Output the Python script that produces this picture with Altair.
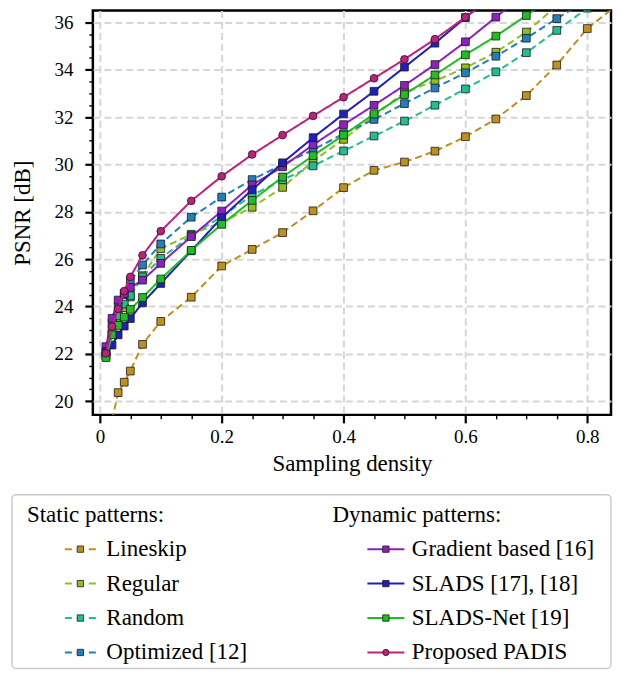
import altair as alt
import pandas as pd

# ---------------- data ----------------
series = ["Lineskip", "Regular", "Random", "Optimized [12]",
          "Gradient based [16]", "SLADS [17], [18]", "SLADS-Net [19]", "Proposed PADIS"]
groups = ["Static patterns:"] * 4 + ["Dynamic patterns:"] * 4
colors = ["#C0901F", "#8FBF1F", "#1FBF8F", "#1F7FBF",
          "#8F1FBF", "#1F1FBF", "#1FBF1F", "#BF1F7F"]
shapes = ["square"] * 7 + ["circle"]
dashes = [[7, 4]] * 4 + [[1, 0]] * 4

x_main = [0.01, 0.02, 0.03, 0.04, 0.05, 0.07, 0.1, 0.15, 0.2, 0.25, 0.3,
          0.35, 0.4, 0.45, 0.5, 0.55, 0.6, 0.65, 0.7, 0.75, 0.8]

lineskip_x = [0.02, 0.03, 0.04, 0.05, 0.07, 0.1, 0.15, 0.2, 0.25, 0.3, 0.35,
              0.4, 0.45, 0.5, 0.55, 0.6, 0.65, 0.7, 0.75, 0.8, 0.85]
lineskip_y = [19.2, 20.36, 20.8, 21.27, 22.4, 23.37, 24.39, 25.71, 26.41, 27.12, 28.04,
              29.02, 29.75, 30.1, 30.56, 31.17, 31.92, 32.91, 34.2, 35.74, 36.75]
regular_x = x_main[:20]
regular_y = [21.9, 22.85, 23.45, 23.95, 24.4, 25.3, 26.44, 27.05, 27.55, 28.19, 29.03,
             30.14, 31.06, 32.05, 33.05, 33.53, 34.08, 34.74, 35.59, 36.7]
random_x = x_main
random_y = [21.95, 23.0, 23.6, 24.1, 24.45, 25.25, 26.03, 27.0, 27.8, 28.7, 29.35,
            29.94, 30.57, 31.2, 31.83, 32.5, 33.19, 33.91, 34.72, 35.66, 36.6]
optimized_x = x_main
optimized_y = [22.05, 23.3, 24.0, 24.5, 25.07, 25.75, 26.64, 27.77, 28.62, 29.36, 30.0,
               30.62, 31.3, 31.9, 32.57, 33.23, 33.87, 34.57, 35.33, 36.16, 36.95]
gradient_x = x_main[:19]
gradient_y = [22.3, 23.5, 24.27, 24.55, 24.8, 25.11, 25.82, 26.95, 28.03, 29.14, 29.9,
              30.83, 31.68, 32.5, 33.34, 34.22, 35.18, 36.22, 37.25]
slads_x = x_main[:18]
slads_y = [22.1, 22.37, 22.8, 23.17, 23.49, 24.15, 24.97, 26.35, 27.75, 28.93, 30.07,
           31.13, 32.13, 33.09, 34.11, 35.12, 36.2, 37.25]
sladsnet_x = x_main[:20]
sladsnet_y = [21.84, 22.8, 23.2, 23.55, 23.88, 24.38, 25.16, 26.37, 27.47, 28.48, 29.47,
              30.37, 31.24, 32.13, 32.95, 33.78, 34.63, 35.42, 36.29, 37.2]
padis_x = x_main[:18]
padis_y = [22.02, 23.15, 23.9, 24.65, 25.25, 26.16, 27.18, 28.46, 29.5, 30.42, 31.24,
           32.05, 32.84, 33.64, 34.44, 35.29, 36.22, 37.15]

xs_all = [lineskip_x, regular_x, random_x, optimized_x, gradient_x, slads_x, sladsnet_x, padis_x]
ys_all = [lineskip_y, regular_y, random_y, optimized_y, gradient_y, slads_y, sladsnet_y, padis_y]

x_ticks = [round(0.05 * i, 2) for i in range(17)]
y_ticks = [20 + 0.5 * i for i in range(33)]

# ---------------- tables ----------------
rows = []
for s, xv, yv in zip(series, xs_all, ys_all):
    for a, b in zip(xv, yv):
        rows.append({"series": s, "x": a, "y": b})
df = pd.DataFrame(rows)

leg_rows = []
for i, (s, g) in enumerate(zip(series, groups)):
    leg_rows.append({"series": s, "label": s, "col": 0 if i < 4 else 1, "row": i % 4 + 1,
                     "kind": "static" if i < 4 else "dynamic"})
for j, g in enumerate(["Static patterns:", "Dynamic patterns:"]):
    leg_rows.append({"series": None, "label": g, "col": j, "row": 0, "kind": "header"})
leg_df = pd.DataFrame(leg_rows)

FONT = "Liberation Serif"
color_scale = alt.Scale(domain=series, range=colors)
shape_scale = alt.Scale(domain=series, range=shapes)
dash_scale = alt.Scale(domain=series, range=dashes)

xs = alt.Scale(domain=[-0.0115, 0.839], nice=False, zero=False)
ys = alt.Scale(domain=[19.42, 36.5], nice=False, zero=False)

xmaj = "abs(datum.value*5 - round(datum.value*5)) < 0.000001"
ymaj = "abs(datum.value/2 - round(datum.value/2)) < 0.000001"


def axis_kw(test):
    return dict(
        domain=False,
        tickColor="black",
        tickSize={"condition": {"test": test, "value": 8}, "value": 4},
        tickWidth={"condition": {"test": test, "value": 2.2}, "value": 1.4},
        gridOpacity={"condition": {"test": test, "value": 1}, "value": 0},
        gridColor="#d6d6d6", gridDash=[7, 4], gridWidth=2,
        labelFont=FONT, labelFontSize=19, labelColor="black",
        labelOverlap=False, labelFlush=False,
        titleFont=FONT, titleFontSize=23, titleFontWeight="normal", titleColor="black",
    )


x_axis = alt.Axis(values=x_ticks, title="Sampling density",
                  labelExpr=f"({xmaj}) ? format(datum.value, '~g') : ''",
                  labelPadding=5, titlePadding=6, **axis_kw(xmaj))
y_axis = alt.Axis(values=y_ticks, title="PSNR [dB]",
                  labelExpr=f"({ymaj}) ? format(datum.value, 'd') : ''",
                  labelPadding=12, titleX=-58, **axis_kw(ymaj))

enc_x = alt.X("x:Q", scale=xs, axis=x_axis)
enc_y = alt.Y("y:Q", scale=ys, axis=y_axis)

layers = []
for k, s in enumerate(series):
    base = alt.Chart(df).transform_filter(alt.datum.series == s)
    line = base.mark_line(clip=True, strokeWidth=2).encode(
        x=enc_x, y=enc_y,
        stroke=alt.Stroke("series:N", scale=color_scale, legend=None),
        strokeDash=alt.StrokeDash("series:N", scale=dash_scale, legend=None),
    )
    pts = base.mark_point(clip=True, filled=True, opacity=1, size=60,
                          stroke="#1a1a1a", strokeWidth=0.8).encode(
        x=enc_x, y=enc_y,
        fill=alt.Fill("series:N", scale=color_scale, legend=None),
        shape=alt.Shape("series:N", scale=shape_scale, legend=None),
    )
    layers += [line, pts]

PLOT_W = 519
main = alt.layer(*layers).properties(
    width=PLOT_W, height=405,
    view=alt.ViewBackground(stroke="black", strokeWidth=2.5),
)

# ---------------- custom legend panel ----------------
# The legend panel shares the plot's left origin; its frame reaches out under the y axis.
LEG_LEFT = -81
LEG_H = 174
lx = alt.X("col:Q", scale=alt.Scale(domain=[0, 1], range=[0, 306]), axis=None)
ly = alt.Y("row:Q", scale=alt.Scale(domain=[0, 4], range=[20, 158]), axis=None)
lbase = alt.Chart(leg_df)

frame = alt.Chart(pd.DataFrame({"k": [0]})).mark_rect(
    fill="white", stroke="#cccccc", strokeWidth=1.5, cornerRadius=4
).encode(x=alt.value(LEG_LEFT), x2=alt.value(PLOT_W), y=alt.value(0), y2=alt.value(LEG_H))

headers = lbase.transform_filter(alt.datum.kind == "header").mark_text(
    align="left", baseline="middle", font=FONT, fontSize=23, color="black",
    xOffset=LEG_LEFT + 15
).encode(x=lx, y=ly, text="label:N")

SYM_OFF = LEG_LEFT + 68.5
static_lines = lbase.transform_filter(alt.datum.kind == "static").mark_point(
    shape="M-1,0L1,0", size=31 * 31, filled=False, opacity=1, strokeWidth=2,
    strokeDash=[7, 5], xOffset=SYM_OFF
).encode(x=lx, y=ly, stroke=alt.Stroke("series:N", scale=color_scale, legend=None))

dyn_lines = lbase.transform_filter(alt.datum.kind == "dynamic").mark_point(
    shape="M-1,0L1,0", size=37 * 37, filled=False, opacity=1, strokeWidth=2, xOffset=SYM_OFF
).encode(x=lx, y=ly, stroke=alt.Stroke("series:N", scale=color_scale, legend=None))

leg_marks = lbase.transform_filter(alt.datum.kind != "header").mark_point(
    filled=True, opacity=1, size=40, stroke="#1a1a1a", strokeWidth=0.8, xOffset=SYM_OFF
).encode(
    x=lx, y=ly,
    fill=alt.Fill("series:N", scale=color_scale, legend=None),
    shape=alt.Shape("series:N", scale=shape_scale, legend=None),
)

leg_text = lbase.transform_filter(alt.datum.kind != "header").mark_text(
    align="left", baseline="middle", font=FONT, fontSize=23, color="black",
    xOffset=LEG_LEFT + 94.5
).encode(x=lx, y=ly, text="label:N")

legend = alt.layer(frame, headers, static_lines, dyn_lines, leg_marks, leg_text).properties(
    width=PLOT_W, height=LEG_H,
    view=alt.ViewBackground(stroke=None, fill=None),
)

chart = alt.vconcat(main, legend, spacing=16).properties(
    padding={"left": 2, "top": 0, "right": 0, "bottom": 0}
).resolve_scale(stroke="shared", fill="shared", shape="shared")

chart.save("out.html", embed_options={"renderer": "svg", "actions": False})
